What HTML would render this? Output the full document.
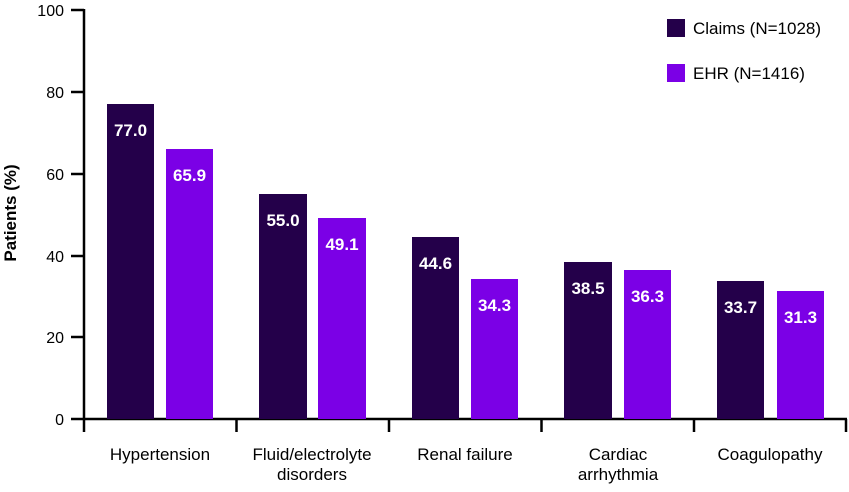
<!DOCTYPE html><html><head><style>body{margin:0;background:#fff}</style></head><body>
<svg width="849" height="487" xmlns="http://www.w3.org/2000/svg" font-family="Liberation Sans, Arial, sans-serif">
<g stroke="#000" stroke-width="2.5" fill="none">
<line x1="84" y1="9" x2="84" y2="420"/>
<line x1="83" y1="419" x2="847" y2="419"/>
<line x1="71" y1="10" x2="84" y2="10"/><line x1="71" y1="92" x2="84" y2="92"/><line x1="71" y1="174" x2="84" y2="174"/><line x1="71" y1="256" x2="84" y2="256"/><line x1="71" y1="337" x2="84" y2="337"/><line x1="71" y1="419" x2="84" y2="419"/>
<line x1="84" y1="419" x2="84" y2="432"/><line x1="236.5" y1="419" x2="236.5" y2="432"/><line x1="389" y1="419" x2="389" y2="432"/><line x1="541.5" y1="419" x2="541.5" y2="432"/><line x1="694" y1="419" x2="694" y2="432"/><line x1="846" y1="419" x2="846" y2="432"/>
</g>
<g font-size="16" text-anchor="end" fill="#000">
<text x="64" y="16">100</text><text x="64" y="98">80</text><text x="64" y="180">60</text><text x="64" y="262">40</text><text x="64" y="343">20</text><text x="64" y="425">0</text>
</g>
<text transform="translate(16,213) rotate(-90)" font-size="17" font-weight="bold" text-anchor="middle">Patients (%)</text>
<g>
<rect x="107" y="104" width="47" height="315" fill="#24004a"/><rect x="166" y="149" width="47" height="270" fill="#7b00e6"/>
<rect x="259" y="194" width="48" height="225" fill="#24004a"/><rect x="318" y="218" width="48" height="201" fill="#7b00e6"/>
<rect x="412" y="237" width="47" height="182" fill="#24004a"/><rect x="471" y="279" width="47" height="140" fill="#7b00e6"/>
<rect x="564" y="262" width="48" height="157" fill="#24004a"/><rect x="624" y="270" width="47" height="149" fill="#7b00e6"/>
<rect x="717" y="281" width="47" height="138" fill="#24004a"/><rect x="777" y="291" width="47" height="128" fill="#7b00e6"/>
</g>
<g font-size="17" font-weight="bold" fill="#fff" text-anchor="middle">
<text x="130.5" y="136">77.0</text><text x="189.5" y="181">65.9</text>
<text x="283" y="226">55.0</text><text x="342" y="250">49.1</text>
<text x="435.5" y="269">44.6</text><text x="494.5" y="311">34.3</text>
<text x="588" y="294">38.5</text><text x="647.5" y="302">36.3</text>
<text x="740.5" y="313">33.7</text><text x="800.5" y="323">31.3</text>
</g>
<g font-size="17" text-anchor="middle" fill="#000">
<text x="160" y="460">Hypertension</text>
<text x="312" y="460">Fluid/electrolyte</text><text x="312" y="480">disorders</text>
<text x="465" y="460">Renal failure</text>
<text x="618" y="460">Cardiac</text><text x="618" y="480">arrhythmia</text>
<text x="770" y="460">Coagulopathy</text>
</g>
<rect x="667" y="19" width="18" height="18" fill="#24004a"/>
<text x="693" y="34" font-size="17">Claims (N=1028)</text>
<rect x="667" y="64" width="18" height="18" fill="#7b00e6"/>
<text x="693" y="79" font-size="17">EHR (N=1416)</text>
</svg>
</body></html>
